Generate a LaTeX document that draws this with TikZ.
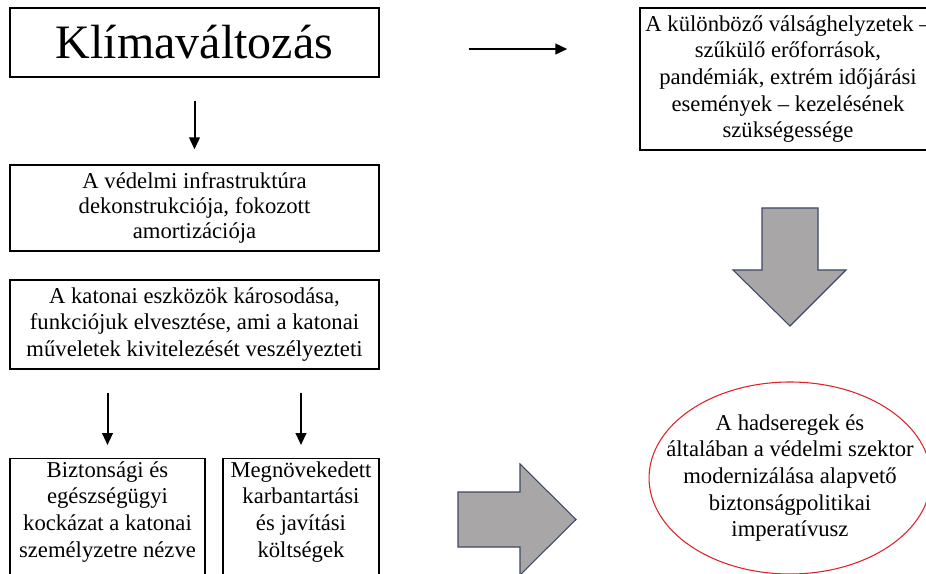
\documentclass[tikz,border=0pt]{standalone}
\usepackage{fontspec}
\setmainfont{Liberation Serif}
\usetikzlibrary{shapes.geometric,arrows.meta}
\definecolor{nyilszurke}{HTML}{A9A6A8}
\definecolor{nyilkeret}{HTML}{3E4864}
\definecolor{ellipszispiros}{HTML}{E0232B}

\begin{document}
\begin{tikzpicture}[x=0.75pt,y=-0.75pt,
		nyil/.style={-{Triangle[length=9pt,width=8pt]},line width=1.5pt},
		szurke/.style={fill=nyilszurke,draw=nyilkeret,line width=0.8pt}]
	\useasboundingbox (0,0) rectangle (926,574);
	
	\begin{scope}[every node/.style={rectangle,draw,line width=1pt,align=center,inner sep=0pt,font=\fontsize{17}{20}\selectfont}]
		\node[minimum width=276.75pt,minimum height=51.75pt,font=\fontsize{36}{40}\selectfont] (klima) at (194.5,42.5) {Klímaváltozás};
		\node[minimum width=276.75pt,minimum height=64.5pt,font=\fontsize{17}{19}\selectfont] (infra) at (194.5,208) {A védelmi infrastruktúra\\dekonstrukciója, fokozott\\amortizációja};
		\node[minimum width=276.75pt,minimum height=66.75pt] (eszkoz) at (194.5,324.5) {A katonai eszközök károsodása,\\funkciójuk elvesztése, ami a katonai\\műveletek kivitelezését veszélyezteti};
		\node[anchor=north] (bizt) at (107.5,458) {\parbox[c][96pt][t]{146.25pt}{\centering\strut Biztonsági és\\egészségügyi\\kockázat a katonai\\személyzetre nézve}};
		\node[anchor=north] (karb) at (301,458) {\parbox[c][96pt][t]{117pt}{\centering\strut Megnövekedett\\karbantartási\\és javítási\\költségek}};
		\node[minimum width=222pt,minimum height=106.5pt] (valsag) at (788,79) {A különböző válsághelyzetek –\\szűkülő erőforrások,\\pandémiák, extrém időjárási\\események – kezelésének\\szükségessége};
		\node[ellipse,draw=ellipszispiros,line width=0.8pt,inner xsep=-18pt,inner ysep=0pt,minimum width=205.5pt,minimum height=144pt] (modern) at (790,478) {A hadseregek és\\általában a védelmi szektor\\modernizálása alapvető\\biztonságpolitikai\\imperatívusz};
	\end{scope}
	
	\draw[nyil,shorten <=17.25pt,shorten >=11.25pt] (klima) -- (infra);
	\draw[nyil,shorten <=66.75pt,shorten >=54pt] ([yshift=-4.9pt]klima.east) -- ([yshift=-4.9pt]klima.east -| valsag.west);
	\draw[nyil,shorten <=17.25pt,shorten >=9.75pt] (eszkoz.south -| bizt.north) -- (bizt.north);
	\draw[nyil,shorten <=17.25pt,shorten >=9.75pt] (eszkoz.south -| karb.north) -- (karb.north);
	
	% nagy szurke nyilak
	\draw[szurke] (762,208) -- (818,208) -- (818,270) -- (846,270) -- (790,326) -- (733,270) -- (762,270) -- cycle;
	\draw[szurke] (458,492) -- (520,492) -- (520,464) -- (576,519.5) -- (520,575) -- (520,547) -- (458,547) -- cycle;
\end{tikzpicture}
\end{document}
